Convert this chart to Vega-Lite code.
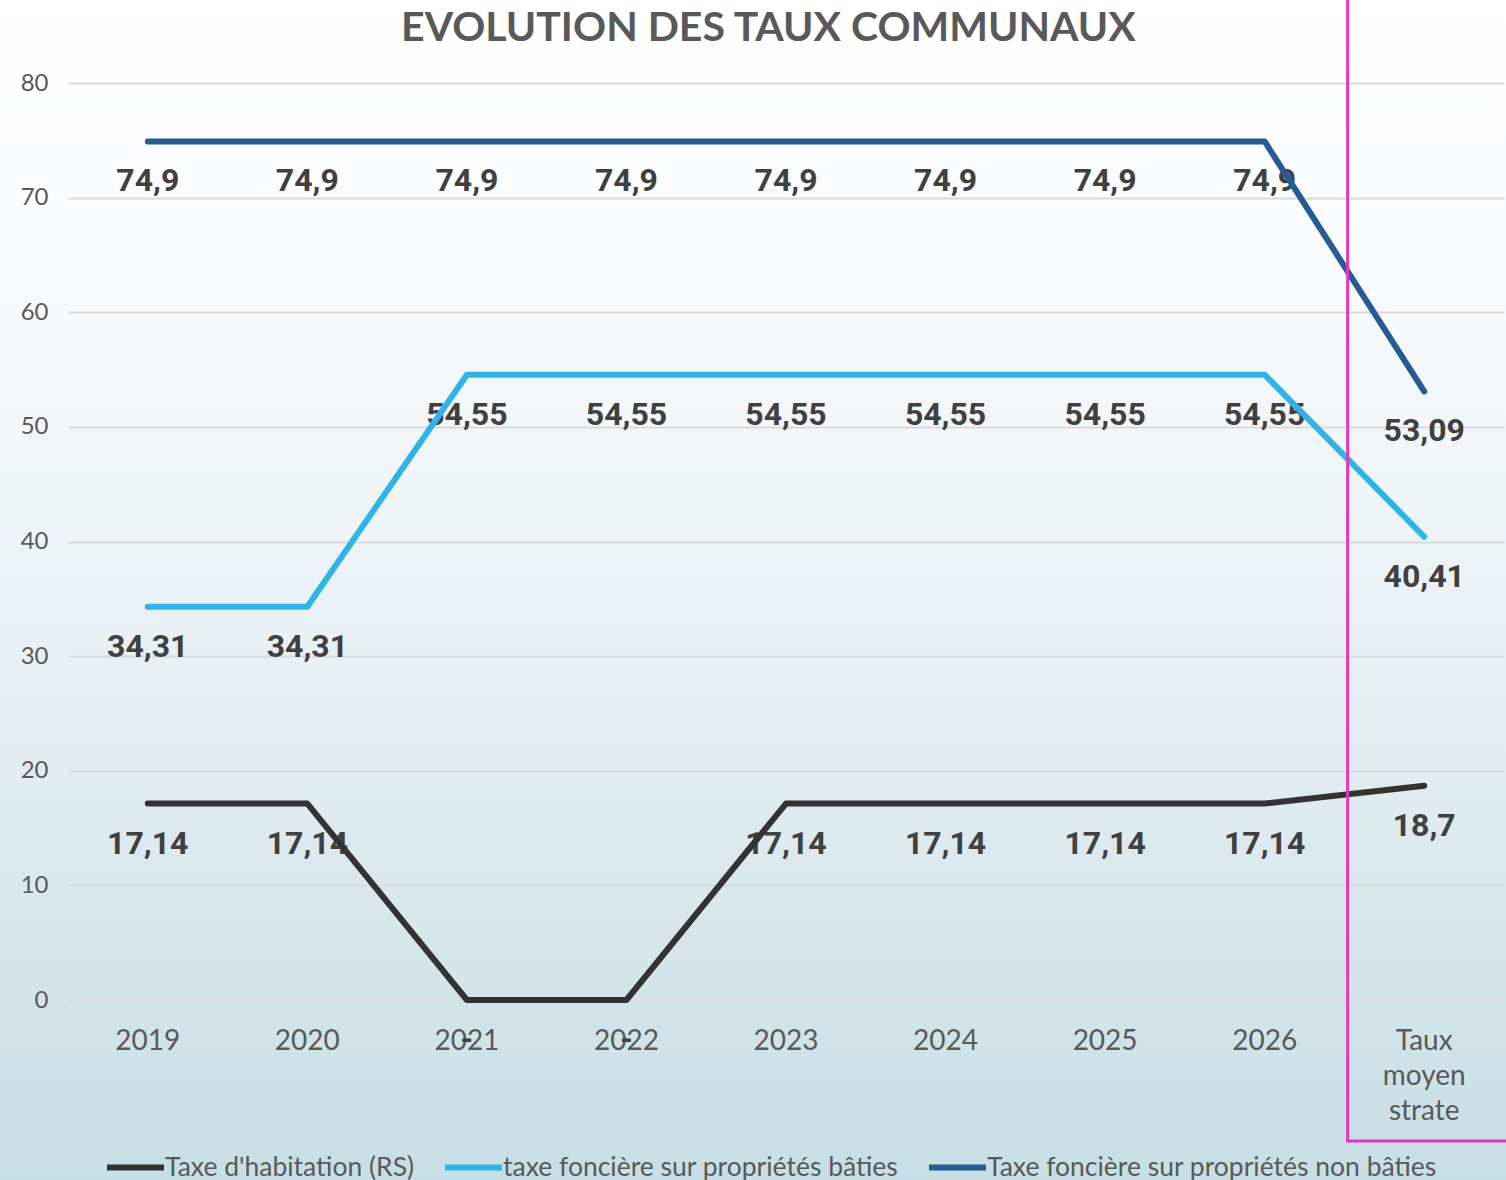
{
  "$schema": "https://vega.github.io/schema/vega-lite/v6.json",
  "width": 1506,
  "height": 1180,
  "autosize": {"type": "none"},
  "padding": 0,
  "background": "#e6eef2",
  "view": {
    "stroke": null,
    "fill": {
      "gradient": "linear", "x1": 0, "y1": 0, "x2": 0, "y2": 1,
      "stops": [
        {"offset": 0, "color": "#ffffff"},
        {"offset": 0.25, "color": "#f8fafc"},
        {"offset": 0.5, "color": "#ebf2f5"},
        {"offset": 0.75, "color": "#d9e8ed"},
        {"offset": 1, "color": "#c6dee5"}
      ]
    }
  },
  "config": {
    "legend": {"labelFont": "Lato", "labelFontSize": 26.5, "labelColor": "#595959", "labelLimit": 0}
  },
  "layer": [
    {
      "data": {
        "values": [
          {"categorie": "2019", "serie": "Taxe d'habitation (RS)", "valeur": 17.14, "etiquette": "17,14"},
          {"categorie": "2020", "serie": "Taxe d'habitation (RS)", "valeur": 17.14, "etiquette": "17,14"},
          {"categorie": "2021", "serie": "Taxe d'habitation (RS)", "valeur": 0, "etiquette": "-"},
          {"categorie": "2022", "serie": "Taxe d'habitation (RS)", "valeur": 0, "etiquette": "-"},
          {"categorie": "2023", "serie": "Taxe d'habitation (RS)", "valeur": 17.14, "etiquette": "17,14"},
          {"categorie": "2024", "serie": "Taxe d'habitation (RS)", "valeur": 17.14, "etiquette": "17,14"},
          {"categorie": "2025", "serie": "Taxe d'habitation (RS)", "valeur": 17.14, "etiquette": "17,14"},
          {"categorie": "2026", "serie": "Taxe d'habitation (RS)", "valeur": 17.14, "etiquette": "17,14"},
          {"categorie": "Taux moyen strate", "serie": "Taxe d'habitation (RS)", "valeur": 18.7, "etiquette": "18,7"},
          {"categorie": "2019", "serie": "taxe foncière sur propriétés bâties", "valeur": 34.31, "etiquette": "34,31"},
          {"categorie": "2020", "serie": "taxe foncière sur propriétés bâties", "valeur": 34.31, "etiquette": "34,31"},
          {"categorie": "2021", "serie": "taxe foncière sur propriétés bâties", "valeur": 54.55, "etiquette": "54,55"},
          {"categorie": "2022", "serie": "taxe foncière sur propriétés bâties", "valeur": 54.55, "etiquette": "54,55"},
          {"categorie": "2023", "serie": "taxe foncière sur propriétés bâties", "valeur": 54.55, "etiquette": "54,55"},
          {"categorie": "2024", "serie": "taxe foncière sur propriétés bâties", "valeur": 54.55, "etiquette": "54,55"},
          {"categorie": "2025", "serie": "taxe foncière sur propriétés bâties", "valeur": 54.55, "etiquette": "54,55"},
          {"categorie": "2026", "serie": "taxe foncière sur propriétés bâties", "valeur": 54.55, "etiquette": "54,55"},
          {"categorie": "Taux moyen strate", "serie": "taxe foncière sur propriétés bâties", "valeur": 40.41, "etiquette": "40,41"},
          {"categorie": "2019", "serie": "Taxe foncière sur propriétés non bâties", "valeur": 74.9, "etiquette": "74,9"},
          {"categorie": "2020", "serie": "Taxe foncière sur propriétés non bâties", "valeur": 74.9, "etiquette": "74,9"},
          {"categorie": "2021", "serie": "Taxe foncière sur propriétés non bâties", "valeur": 74.9, "etiquette": "74,9"},
          {"categorie": "2022", "serie": "Taxe foncière sur propriétés non bâties", "valeur": 74.9, "etiquette": "74,9"},
          {"categorie": "2023", "serie": "Taxe foncière sur propriétés non bâties", "valeur": 74.9, "etiquette": "74,9"},
          {"categorie": "2024", "serie": "Taxe foncière sur propriétés non bâties", "valeur": 74.9, "etiquette": "74,9"},
          {"categorie": "2025", "serie": "Taxe foncière sur propriétés non bâties", "valeur": 74.9, "etiquette": "74,9"},
          {"categorie": "2026", "serie": "Taxe foncière sur propriétés non bâties", "valeur": 74.9, "etiquette": "74,9"},
          {"categorie": "Taux moyen strate", "serie": "Taxe foncière sur propriétés non bâties", "valeur": 53.09, "etiquette": "53,09"}
        ]
      },
      "encoding": {
        "x": {
          "field": "categorie",
          "type": "nominal",
          "sort": ["2019", "2020", "2021", "2022", "2023", "2024", "2025", "2026", "Taux moyen strate"],
          "scale": {"type": "band", "paddingInner": 0, "paddingOuter": 0, "range": [68, 1504]},
          "axis": {
            "orient": "bottom",
            "offset": -180,
            "bandPosition": 0.5,
            "title": null,
            "labelAngle": 0,
            "labelFont": "Lato",
            "labelFontSize": 28,
            "labelColor": "#595959",
            "labelPadding": 27,
            "labelLineHeight": 35,
            "labelBaseline": "top",
            "labelExpr": "datum.value == 'Taux moyen strate' ? ['Taux', 'moyen', 'strate'] : datum.value",
            "ticks": false,
            "domain": false,
            "grid": false
          }
        },
        "y": {
          "field": "valeur",
          "type": "quantitative",
          "scale": {"domain": [-15.703, 87.241], "nice": false, "zero": false},
          "axis": {
            "title": null,
            "offset": -68,
            "values": [0, 10, 20, 30, 40, 50, 60, 70, 80],
            "labelFont": "Lato",
            "labelFontSize": 24,
            "labelColor": "#595959",
            "labelPadding": 20,
            "ticks": false,
            "domain": false,
            "grid": true,
            "gridColor": "#d9d9d9",
            "gridWidth": 2
          }
        }
      },
      "layer": [
        {
          "mark": {"type": "text", "font": "Roboto", "fontWeight": "bold", "fontSize": 32, "color": "#404040", "baseline": "middle", "align": "center", "dy": 40},
          "encoding": {"text": {"field": "etiquette"}}
        },
        {
          "mark": {"type": "line", "strokeWidth": 6, "strokeCap": "round", "strokeJoin": "round"},
          "encoding": {
            "color": {
              "field": "serie",
              "type": "nominal",
              "scale": {
                "domain": ["Taxe d'habitation (RS)", "taxe foncière sur propriétés bâties", "Taxe foncière sur propriétés non bâties"],
                "range": ["#333333", "#2eb4e6", "#265b94"]
              },
              "legend": {
                "title": null,
                "orient": "none",
                "legendX": 104,
                "legendY": 1136,
                "direction": "horizontal",
                "symbolType": "stroke",
                "symbolStrokeWidth": 6,
                "symbolSize": 3249,
                "labelOffset": -2,
                "columnPadding": 18
              }
            }
          }
        }
      ]
    },
    {
      "data": {"values": [{"categorie": "Taux moyen strate"}]},
      "mark": {"type": "rect", "fill": "transparent", "stroke": "#e535c0", "strokeWidth": 3, "clip": true},
      "encoding": {
        "x": {"field": "categorie", "type": "nominal", "bandPosition": 0.02},
        "x2": {"field": "categorie", "bandPosition": 1.2},
        "y": {"datum": 87.45},
        "y2": {"datum": -12.3}
      }
    },
    {
      "data": {"values": [{"titre": "EVOLUTION DES TAUX COMMUNAUX"}]},
      "mark": {"type": "text", "font": "Lato", "fontWeight": "bold", "fontSize": 41, "color": "#595959", "align": "center", "baseline": "alphabetic"},
      "encoding": {
        "x": {"datum": "2023", "bandPosition": 0.39},
        "y": {"datum": 83.66},
        "text": {"field": "titre"}
      }
    }
  ]
}
